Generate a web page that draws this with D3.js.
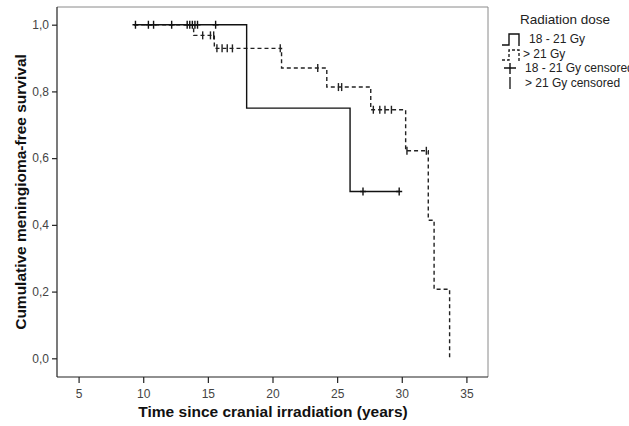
<!DOCTYPE html>
<html>
<head>
<meta charset="utf-8">
<script src="https://cdnjs.cloudflare.com/ajax/libs/d3/7.8.5/d3.min.js"></script>
<style>
  body { margin: 0; background: #fff; }
  svg { display: block; font-family: "Liberation Sans", Arial, sans-serif; }
</style>
</head>
<body>
<div id="chart"></div>
<script>
// Kaplan-Meier steps: [time, survival]
const lowDoseSteps = [[9.3, 1.0], [18.0, 0.75], [26.0, 0.5]];
const lowDoseEnd = 29.8;
const highDoseSteps = [[9.3, 1.0], [13.9, 0.968], [15.5, 0.929], [20.7, 0.87], [24.2, 0.813],
  [27.6, 0.745], [30.3, 0.622], [32.05, 0.414], [32.5, 0.207], [33.7, 0.0]];
const highDoseEnd = 33.7;

// censored observations: [time, survival]
const lowDoseCensored = [[9.4, 1], [10.4, 1], [10.8, 1], [12.2, 1], [13.4, 1], [13.6, 1],
  [13.8, 1], [14.0, 1], [14.2, 1], [15.6, 1], [27.0, 0.5], [29.8, 0.5]];
const highDoseCensored = [[14.6, 0.968], [15.2, 0.968], [15.45, 0.968],
  [15.7, 0.929], [16.1, 0.929], [16.5, 0.929], [16.9, 0.929], [20.6, 0.929],
  [23.5, 0.87], [25.1, 0.813], [25.35, 0.813],
  [27.8, 0.745], [28.3, 0.745], [28.7, 0.745], [29.2, 0.745],
  [30.4, 0.622], [31.9, 0.622]];

const xTicks = [5, 10, 15, 20, 25, 30, 35];
const yTicks = [0, 0.2, 0.4, 0.6, 0.8, 1.0];
const legendLabels = ["18 - 21 Gy", "> 21 Gy", "18 - 21 Gy censored", "> 21 Gy censored"];

const w = 629, h = 426;
const plotL = 57, plotR = 488, plotT = 7, plotB = 377;

const x = d3.scaleLinear().domain([3.33, 36.67]).range([plotL, plotR]);
const y = d3.scaleLinear().domain([-0.056, 1.053]).range([plotB, plotT]);

const svg = d3.select("#chart").append("svg").attr("width", w).attr("height", h);

// frame (top/right lighter)
svg.append("path")
  .attr("d", `M${plotL},${plotT}H${plotR}V${plotB}`)
  .attr("fill", "none").attr("stroke", "#8a8a8a").attr("stroke-width", 1);

// axes
const xAxis = d3.axisBottom(x).tickValues(xTicks).tickSize(6).tickSizeOuter(0).tickPadding(6);
const yAxis = d3.axisLeft(y).tickValues(yTicks).tickSize(5).tickSizeOuter(0).tickPadding(3)
  .tickFormat(d => d3.format(".1f")(d).replace(".", ","));

const gx = svg.append("g").attr("transform", `translate(0,${plotB})`).call(xAxis);
const gy = svg.append("g").attr("transform", `translate(${plotL},0)`).call(yAxis);
[gx, gy].forEach(g => {
  g.select(".domain").attr("stroke", "#222").attr("stroke-width", 1.2);
  g.selectAll(".tick line").attr("stroke", "#222").attr("stroke-width", 1.2);
  g.selectAll(".tick text").attr("fill", "#444").style("font-size", "12px");
});
gx.select(".domain").attr("d", `M${plotL},0H${plotR}`);
gy.select(".domain").attr("d", `M0,${plotT}V${plotB}`);

// axis titles
svg.append("text")
  .attr("x", 273).attr("y", 417)
  .attr("text-anchor", "middle")
  .style("font-size", "15.5px").style("font-weight", "bold").attr("fill", "#111")
  .text("Time since cranial irradiation (years)");
svg.append("text")
  .attr("transform", `translate(26,${(plotT + plotB) / 2}) rotate(-90)`)
  .attr("text-anchor", "middle")
  .style("font-size", "15.5px").style("font-weight", "bold").attr("fill", "#111")
  .text("Cumulative meningioma-free survival");

// curves
const line = d3.line().x(d => x(d[0])).y(d => y(d[1])).curve(d3.curveStepAfter);

svg.append("path")
  .datum([...highDoseSteps, [highDoseEnd, highDoseSteps[highDoseSteps.length - 1][1]]])
  .attr("d", line)
  .attr("fill", "none").attr("stroke", "#222").attr("stroke-width", 1.4)
  .attr("stroke-dasharray", "4,3");

svg.append("path")
  .datum([...lowDoseSteps, [lowDoseEnd, lowDoseSteps[lowDoseSteps.length - 1][1]]])
  .attr("d", line)
  .attr("fill", "none").attr("stroke", "#111").attr("stroke-width", 1.4);

// censor marks
svg.selectAll(".cens-high")
  .data(highDoseCensored)
  .enter().append("path")
  .attr("class", "cens-high")
  .attr("d", d => `M${x(d[0])},${y(d[1]) - 4}V${y(d[1]) + 4}`)
  .attr("stroke", "#222").attr("stroke-width", 1.4);

svg.selectAll(".cens-low")
  .data(lowDoseCensored)
  .enter().append("path")
  .attr("class", "cens-low")
  .attr("d", d => `M${x(d[0])},${y(d[1]) - 4}V${y(d[1]) + 4}M${x(d[0]) - 3},${y(d[1])}H${x(d[0]) + 3}`)
  .attr("stroke", "#111").attr("stroke-width", 1.4);

// legend
const lg = svg.append("g");
lg.append("text").attr("x", 520).attr("y", 24)
  .style("font-size", "13.5px").attr("fill", "#222").text("Radiation dose");

lg.append("path").attr("d", "M502,45H509V34H519V46")
  .attr("fill", "none").attr("stroke", "#111").attr("stroke-width", 1.4);
lg.append("path").attr("d", "M502,60H509V50H519V61")
  .attr("fill", "none").attr("stroke", "#222").attr("stroke-width", 1.4)
  .attr("stroke-dasharray", "3,2");
lg.append("path").attr("d", "M510,63V74M504,68H516")
  .attr("stroke", "#111").attr("stroke-width", 1.4);
lg.append("path").attr("d", "M510,77V89")
  .attr("stroke", "#222").attr("stroke-width", 1.4);

const legendX = [529, 523, 525, 525];
const legendY = [43, 58, 72, 87];
lg.selectAll(".lt").data(legendLabels).enter().append("text")
  .attr("x", (d, i) => legendX[i]).attr("y", (d, i) => legendY[i])
  .style("font-size", "12px").attr("fill", "#222")
  .text(d => d);
</script>
</body>
</html>
